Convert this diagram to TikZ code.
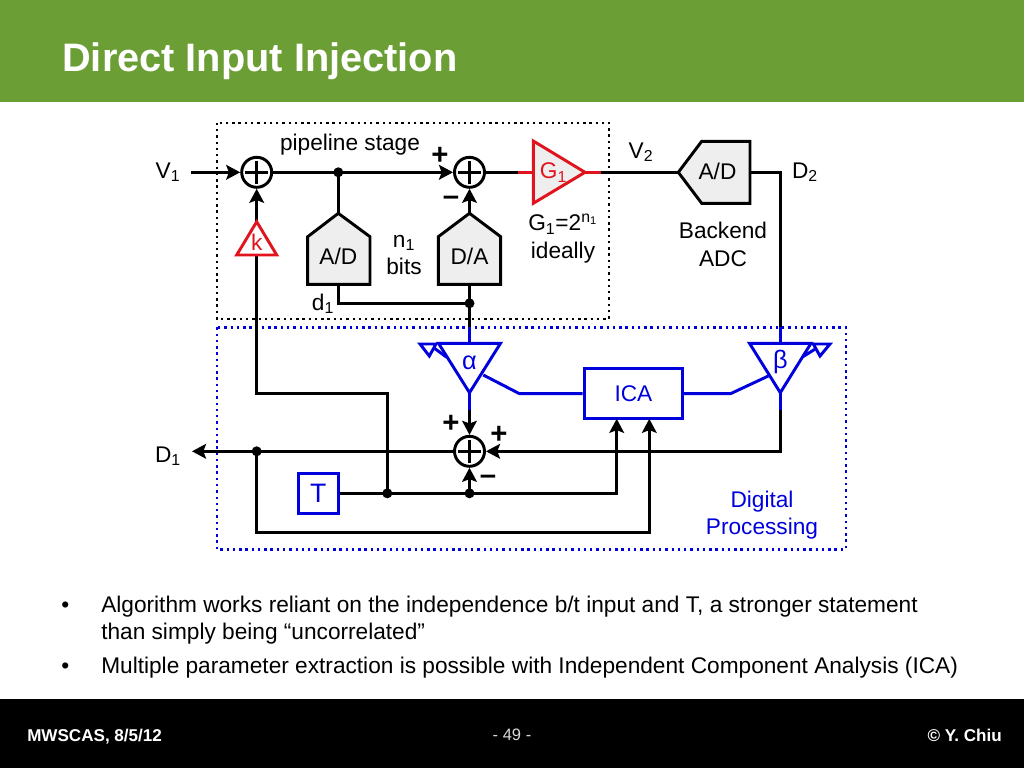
\documentclass[tikz,border=0pt]{standalone}
\usepackage{fontspec}
\setmainfont{Liberation Sans}
\usetikzlibrary{arrows.meta,calc}
\definecolor{barGreen}{RGB}{107,158,52}
\definecolor{sigblue}{RGB}{0,0,220}
\definecolor{sigred}{RGB}{225,20,30}
\definecolor{fillG}{RGB}{238,238,238}
\newcommand{\subs}[1]{\textsubscript{#1}}
\tikzset{
  % wires
  wire/.style     = {line width=2.2pt, black},
  wireblue/.style = {line width=2.2pt, sigblue},
  wirered/.style  = {line width=2.2pt, sigred},
  arrowwire/.style= {wire, -{Stealth[length=10.5pt,width=11pt,inset=2pt]}},
  % boxes
  dotbox/.style   = {line width=1.8pt, dash pattern=on 1.8pt off 2.9pt},
  shapeconv/.style= {line width=2.2pt, draw=black, fill=fillG},
  shapegain/.style= {line width=2.2pt, draw=sigblue, fill=white},
  blockblue/.style= {draw=sigblue, line width=2.2pt, inner sep=0pt, fill=white, text=sigblue},
  % sums and dots
  sumnode/.style  = {circle, draw=black, line width=2.2pt, fill=white, minimum size=22.5pt, inner sep=0pt,
    path picture={\draw[line width=2.2pt] ($(path picture bounding box.center)+(-8.5pt,0)$) -- ($(path picture bounding box.center)+(8.5pt,0)$)
      ($(path picture bounding box.center)+(0,-8.5pt)$) -- ($(path picture bounding box.center)+(0,8.5pt)$);}},
  dotpt/.style    = {circle, fill=black, inner sep=0pt, minimum size=7.5pt},
  % labels
  lab/.style      = {font=\fontsize{17}{20.5}\selectfont, align=center, inner sep=0pt},
  labblue/.style  = {lab, text=sigblue},
  labgreek/.style = {labblue, font=\fontsize{19}{24}\selectfont},
  signlab/.style  = {font=\fontsize{22}{24}\selectfont\bfseries, inner sep=0pt},
  bullettext/.style = {font=\fontsize{17}{20}\selectfont, anchor=base west, inner sep=0pt},
  foot/.style     = {font=\fontsize{12.8}{14}\selectfont\bfseries, text=white, inner sep=0pt},
}
\begin{document}
\begin{tikzpicture}[x=0.75pt,y=-0.75pt]
  \useasboundingbox (0,0) rectangle (1024,768);
  % header and footer
  \fill[barGreen] (0,0) rectangle (1024,102);
  \fill[black] (0,699) rectangle (1024,768);
  \node[font=\fontsize{29.8}{32}\selectfont\bfseries, text=white, anchor=base west, inner sep=0pt] (title) at (62,71) {Direct Input Injection};
  \node[foot, anchor=base west] (footL) at (27,741) {MWSCAS, 8/5/12};
  \node[foot, font=\fontsize{12.4}{14}\selectfont, text=white!85!black] (footM) at (512,735) {- 49 -};
  \node[foot, anchor=base east] (footR) at (1002,741) {© Y. Chiu};

  % dotted frames
  \draw[dotbox, black] (216.7,122.7) rectangle (609,319);
  \draw[dotbox, sigblue] (216.7,327.3) rectangle (845.7,549.3);

  % named points
  \coordinate (vin) at (191,172.3);
  \coordinate (djoin) at (338.3,172.3);
  \coordinate (adcAtop) at (338.3,213.3);
  \coordinate (adcAbot) at (338.3,284.3);
  \coordinate (dacAtop) at (469.5,213.3);
  \coordinate (dacAbot) at (469.5,284.3);
  \coordinate (kTop) at (256.7,221.7);
  \coordinate (alphaTop) at (469.5,343.3);
  \coordinate (alphaTip) at (469.5,392.7);
  \coordinate (betaTop) at (780.3,343.3);
  \coordinate (betaTip) at (780.3,392.7);
  \coordinate (gainIn) at (533.3,172.3);
  \coordinate (gainOut) at (585,172.3);
  \coordinate (adcBin) at (678.3,172.3);
  \coordinate (adcBout) at (750,172.3);
  \coordinate (dout) at (192,451.3);

  % summing nodes and junctions
  \node[sumnode] (sumA) at (256.7,172.3) {};
  \node[sumnode] (sumB) at (469.5,172.3) {};
  \node[sumnode] (sumC) at (469.5,451.3) {};
  \node[dotpt] (dotA) at (djoin) {};
  \node[dotpt] (dotB) at (469.5,303.3) {};
  \node[dotpt] (dotC) at (256.7,451.3) {};
  \node[dotpt] (dotD) at (387.3,493.3) {};
  \node[dotpt] (dotE) at (469.5,493.3) {};
  \node[blockblue, minimum width=30pt, minimum height=30pt, font=\fontsize{20}{20}\selectfont] (delayT) at (318.2,493.3) {T};
  \node[blockblue, minimum width=74pt, minimum height=37pt, font=\fontsize{17}{20}\selectfont] (ica) at (633.4,393.6) {ICA};

  % upper signal path
  \draw[arrowwire] (vin) -- (sumA.west);
  \draw[arrowwire] (sumA.east) -- (sumB.west);
  \draw[wire] (dotA.center) -- (adcAtop);
  \draw[arrowwire] (dacAtop) -- (sumB.south);
  \draw[wire] (sumB.east) -- (518.3,172.3);
  \draw[wirered] (518.3,172.3) -- (gainIn);
  \draw[wirered] (gainOut) -- (600.7,172.3);
  \draw[wire] (600.7,172.3) -- (adcBin);
  \draw[wire] (adcAbot) |- (dotB.center);
  \draw[wire] (dacAbot) -- (469.5,327.3);
  \draw[wireblue] (469.5,327.3) -- (alphaTop);
  \draw[wireblue] (alphaTip) -- (469.5,410);
  \draw[arrowwire] (469.5,410) -- (sumC.north);
  % backend output
  \draw[wire] (adcBout) -- (780.3,172.3) -- (780.3,327.3);
  \draw[wireblue] (780.3,327.3) -- (betaTop);
  \draw[wireblue] (betaTip) -- (780.3,410);
  \draw[arrowwire] (780.3,410) -- (780.3,451.3) -- (sumC.east);
  % feedback through k
  \draw[arrowwire] (dotD.center) -- (387.3,393.3) -- (256.7,393.3) -- (sumA.south);
  % digital side
  \draw[arrowwire] (sumC.west) -- (dout);
  \draw[wire] (delayT.east) -- (dotE.center);
  \draw[arrowwire] (dotE.center) -- (sumC.south);
  \draw[arrowwire] (dotE.center) -| (616.7,418.8);
  \draw[arrowwire] (dotC.center) |- (649.3,532.3) -- (649.3,418.8);
  % ICA to gain blocks
  \draw[wireblue] (ica.west) -- (519.3,393.6) -- (483.3,375);
  \draw[wireblue] (ica.east) -- (730.7,393.6) -- (768.3,376);

  % converters
  \draw[shapeconv] (adcAtop) -- (370,236.7) -- (370,284.3) -- (307.7,284.3) -- (307.7,236.7) -- cycle;
  \draw[shapeconv] (dacAtop) -- (500.7,236.7) -- (500.7,284.3) -- (438.3,284.3) -- (438.3,236.7) -- cycle;
  \draw[shapeconv] (adcBin) -- (701.7,141.3) -- (750,141.3) -- (750,203.3) -- (701.7,203.3) -- cycle;
  \node[lab] (adcA) at (338.3,256) {A/D};
  \node[lab] (dacA) at (469.5,256) {D/A};
  \node[lab] (adcB) at (717.5,171.5) {A/D};
  % k and G1
  \draw[wirered, fill=white] (kTop) -- (276.7,255) -- (236.7,255) -- cycle;
  \node[lab, text=sigred] (gainK) at (256.7,242) {k};
  \draw[wirered, fill=fillG] (gainOut) -- (533.3,203.3) -- (533.3,141) -- cycle;
  \node[lab, text=sigred] (gainG) at (553.5,172.5) {G\subs{1}};
  % alpha and beta
  \draw[shapegain] (alphaTop) -- (500.5,343.3) -- (alphaTip) -- (438.5,343.3) -- cycle;
  \draw[shapegain] (betaTop) -- (811,343.3) -- (betaTip) -- (749.5,343.3) -- cycle;
  \node[labgreek] (alpha) at (469.5,363) {α};
  \node[labgreek] (beta) at (780.3,362) {β};
  \coordinate (alphaAdj) at (432.7,347);
  \coordinate (betaAdj) at (816,348.5);
  \draw[wireblue] (446.7,357.3) -- (alphaAdj);
  \draw[wireblue, fill=white] (420,344) -- (436,344) -- (429.3,356) -- cycle;
  \draw[wireblue] (803.3,356.5) -- (betaAdj);
  \draw[wireblue, fill=white] (830,344) -- (813.3,344) -- (820,356) -- cycle;

  % labels
  \node[lab] (stage) at (350,145) {pipeline stage};
  \node[lab] (vone) at (168,172) {V\subs{1}};
  \node[lab] (vtwo) at (641,152) {V\subs{2}};
  \node[lab] (dtwo) at (805,172) {D\subs{2}};
  \node[lab] (done) at (168,456) {D\subs{1}};
  \node[lab] (dlab) at (323,304) {d\subs{1}};
  \node[lab] (bits) at (404,255) {n\subs{1}\\bits};
  \node[lab] (gainlab) at (563,238.5) {G\subs{1}=2\textsuperscript{n\subs{1}}\\ideally};
  \node[lab] (backend) at (723,244.5) {Backend\\ADC};
  \node[labblue] (digital) at (762,515) {Digital\\Processing};
  % signs
  \node[signlab] (plusA) at (440,156) {+};
  \node[signlab] (minusA) at (451,201) {–};
  \node[signlab] (plusB) at (451,424) {+};
  \node[signlab] (plusC) at (499,435) {+};
  \node[signlab] (minusC) at (488,480) {–};

  % bullets
  \node[bullettext] (bulA) at (61,612) {•};
  \node[bullettext] (lineA) at (101,612.5) {Algorithm works reliant on the independence b/t input and T, a stronger statement};
  \node[bullettext] (lineB) at (101,639.5) {than simply being “uncorrelated”};
  \node[bullettext] (bulB) at (61,673) {•};
  \node[bullettext] (lineC) at (101,673.5) {Multiple parameter extraction is possible with Independent Component Analysis (ICA)};
\end{tikzpicture}
\end{document}
